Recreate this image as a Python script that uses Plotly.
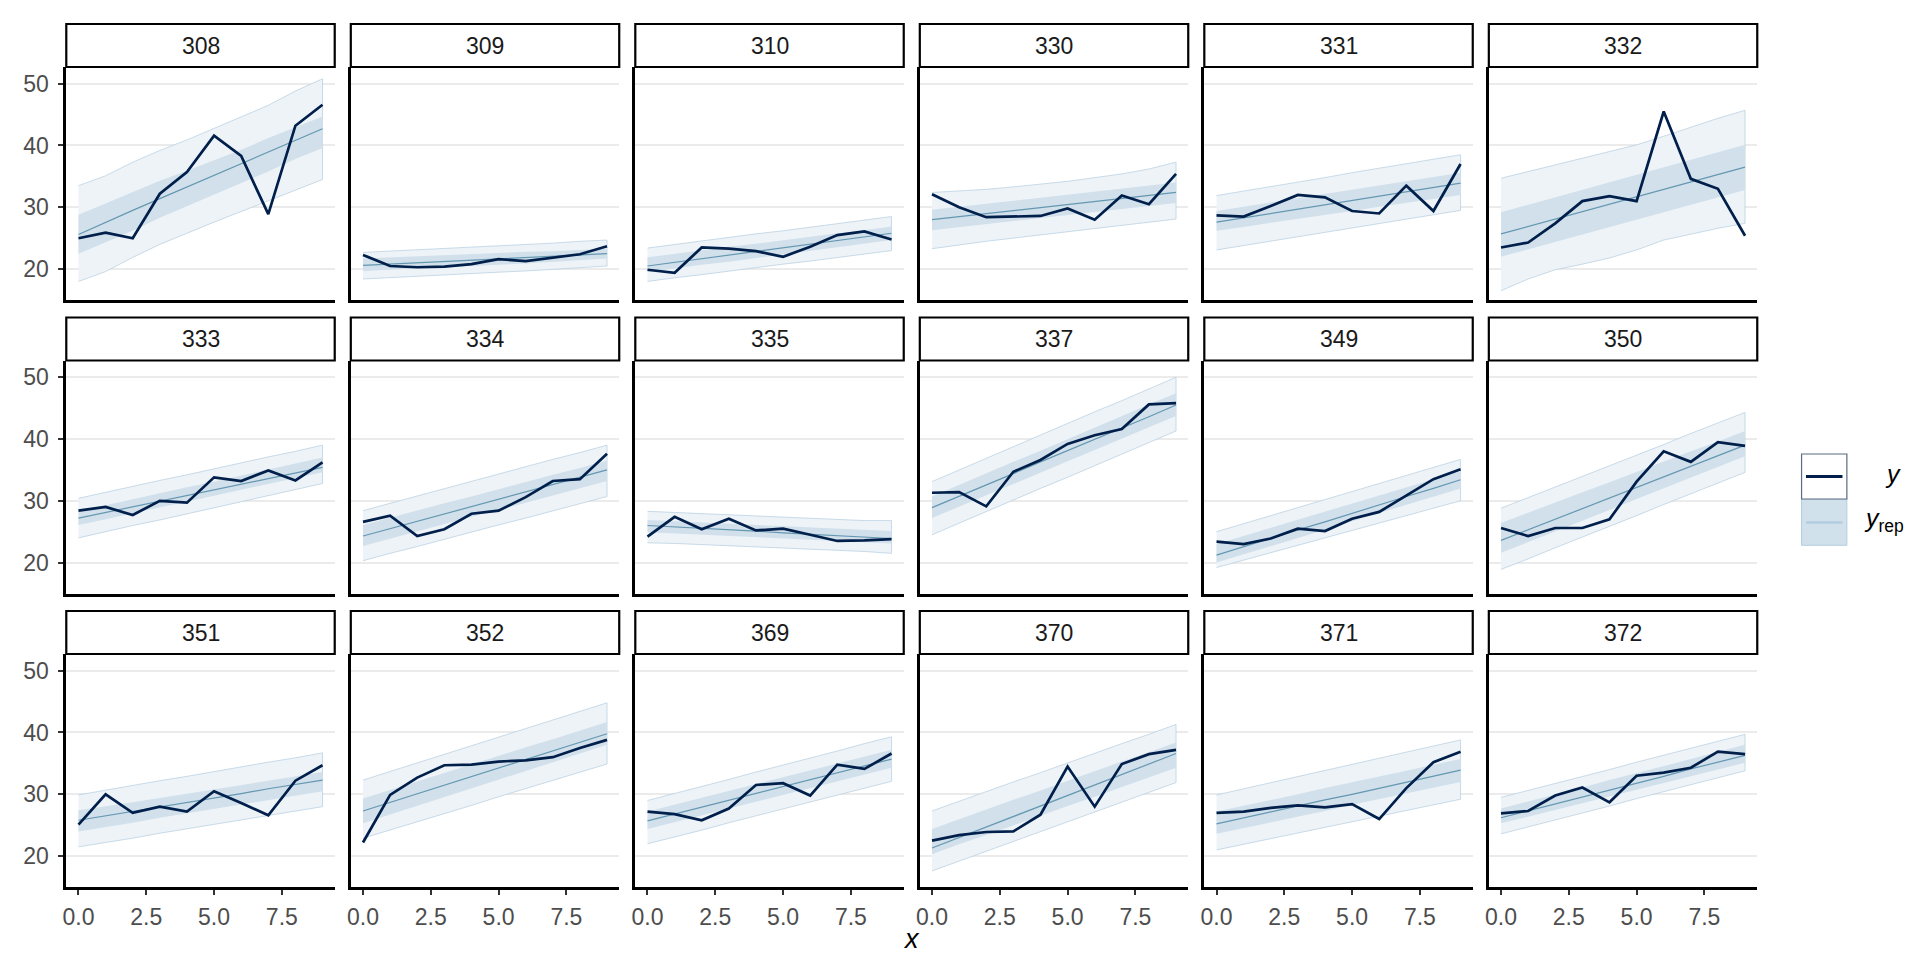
import plotly.graph_objects as go

# ---------------- data ----------------
groups = ["308", "309", "310", "330", "331", "332",
          "333", "334", "335", "337", "349", "350",
          "351", "352", "369", "370", "371", "372"]
x_vals = [0, 1, 2, 3, 4, 5, 6, 7, 8, 9]
x_tick_vals = [0, 2.5, 5, 7.5]
x_tick_text = ["0.0", "2.5", "5.0", "7.5"]
y_tick_vals = [20, 30, 40, 50]
y_tick_text = ["20", "30", "40", "50"]

y_obs = [
    [25.0, 25.9, 25.0, 32.2, 35.7, 41.6, 38.3, 28.9, 43.2, 46.6],
    [22.3, 20.5, 20.3, 20.4, 20.8, 21.6, 21.3, 21.8, 22.4, 23.7],
    [19.9, 19.4, 23.5, 23.3, 22.9, 22.0, 23.6, 25.5, 26.1, 24.8],
    [32.1, 30.0, 28.4, 28.5, 28.6, 29.8, 28.0, 31.9, 30.5, 35.4],
    [28.7, 28.5, 30.2, 32.0, 31.6, 29.4, 29.0, 33.5, 29.4, 37.0],
    [23.5, 24.3, 27.4, 31.0, 31.8, 31.0, 45.5, 34.6, 33.0, 25.4],
    [28.4, 29.0, 27.7, 30.0, 29.7, 33.8, 33.2, 34.9, 33.3, 36.2],
    [26.6, 27.6, 24.3, 25.4, 27.9, 28.4, 30.6, 33.2, 33.5, 37.6],
    [24.2, 27.4, 25.4, 27.1, 25.2, 25.5, 24.5, 23.5, 23.6, 23.8],
    [31.3, 31.4, 29.1, 34.7, 36.6, 39.2, 40.6, 41.6, 45.6, 45.8],
    [23.4, 23.0, 23.9, 25.5, 25.1, 27.1, 28.2, 30.8, 33.5, 35.1],
    [25.6, 24.3, 25.6, 25.6, 27.0, 33.1, 38.0, 36.3, 39.5, 38.9],
    [25.1, 30.0, 27.0, 28.0, 27.2, 30.5, 28.6, 26.6, 32.2, 34.7],
    [22.2, 29.9, 32.7, 34.7, 34.8, 35.3, 35.5, 36.0, 37.5, 38.8],
    [27.2, 26.8, 25.8, 27.7, 31.5, 31.8, 29.8, 34.8, 34.1, 36.6],
    [22.5, 23.4, 23.9, 24.0, 26.7, 34.5, 28.0, 34.9, 36.5, 37.2],
    [27.0, 27.2, 27.8, 28.2, 27.9, 28.4, 26.0, 31.0, 35.2, 36.9],
    [26.9, 27.3, 29.8, 31.1, 28.7, 33.0, 33.5, 34.3, 36.9, 36.5],
]

yrep_median = [
    [25.6, 27.6, 29.5, 31.4, 33.3, 35.2, 37.1, 39.0, 40.9, 42.7],
    [20.6, 20.8, 21.0, 21.2, 21.4, 21.6, 21.8, 22.0, 22.3, 22.5],
    [20.5, 21.1, 21.7, 22.3, 22.9, 23.4, 24.0, 24.6, 25.2, 25.8],
    [28.0, 28.5, 29.0, 29.5, 30.0, 30.4, 30.9, 31.4, 31.9, 32.4],
    [27.6, 28.3, 29.0, 29.7, 30.4, 31.1, 31.8, 32.5, 33.2, 33.9],
    [25.7, 26.9, 28.1, 29.3, 30.5, 31.7, 32.9, 34.1, 35.3, 36.5],
    [27.2, 28.1, 29.0, 29.9, 30.8, 31.8, 32.7, 33.6, 34.5, 35.4],
    [24.3, 25.5, 26.7, 27.9, 29.1, 30.2, 31.4, 32.6, 33.8, 35.0],
    [26.0, 25.8, 25.5, 25.3, 25.1, 24.8, 24.6, 24.4, 24.1, 23.9],
    [28.9, 30.7, 32.6, 34.4, 36.3, 38.1, 39.9, 41.8, 43.6, 45.5],
    [21.2, 22.6, 23.9, 25.3, 26.6, 28.0, 29.3, 30.7, 32.0, 33.4],
    [23.6, 25.3, 27.0, 28.7, 30.4, 32.2, 33.9, 35.6, 37.3, 39.0],
    [25.8, 26.5, 27.2, 28.0, 28.7, 29.4, 30.1, 30.9, 31.6, 32.3],
    [27.3, 28.7, 30.1, 31.5, 32.9, 34.2, 35.6, 37.0, 38.4, 39.8],
    [25.7, 26.8, 27.9, 29.0, 30.1, 31.3, 32.4, 33.5, 34.6, 35.7],
    [21.3, 23.0, 24.7, 26.4, 28.1, 29.8, 31.5, 33.2, 34.9, 36.6],
    [25.2, 26.2, 27.1, 28.1, 29.1, 30.0, 31.0, 32.0, 32.9, 33.9],
    [26.2, 27.3, 28.4, 29.6, 30.7, 31.8, 32.9, 34.1, 35.2, 36.3],
]

yrep_outer_hi = [
    [33.5, 35.1, 37.3, 39.2, 40.9, 42.8, 44.6, 46.5, 48.8, 50.8],
    [22.7, 22.9, 23.1, 23.3, 23.6, 23.8, 24.0, 24.2, 24.5, 24.7],
    [23.4, 24.0, 24.5, 25.1, 25.7, 26.2, 26.8, 27.3, 27.9, 28.5],
    [32.4, 32.6, 32.9, 33.3, 33.7, 34.2, 34.8, 35.4, 36.2, 37.3],
    [31.9, 32.6, 33.4, 34.1, 34.8, 35.6, 36.3, 37.0, 37.8, 38.5],
    [34.7, 35.8, 36.9, 38.0, 39.0, 40.1, 41.5, 43.0, 44.4, 45.7],
    [30.4, 31.4, 32.3, 33.3, 34.2, 35.2, 36.1, 37.1, 38.0, 39.0],
    [28.4, 29.6, 30.8, 31.9, 33.1, 34.3, 35.5, 36.7, 37.8, 39.0],
    [28.3, 28.1, 28.0, 27.8, 27.6, 27.4, 27.2, 26.9, 26.8, 26.8],
    [33.1, 35.0, 36.9, 38.7, 40.6, 42.5, 44.4, 46.2, 48.1, 50.0],
    [25.0, 26.3, 27.6, 28.9, 30.2, 31.5, 32.8, 34.1, 35.4, 36.7],
    [28.8, 30.5, 32.2, 34.0, 35.7, 37.4, 39.1, 40.9, 42.6, 44.3],
    [29.9, 30.7, 31.4, 32.2, 32.9, 33.7, 34.4, 35.2, 35.9, 36.7],
    [32.3, 33.7, 35.1, 36.5, 37.9, 39.2, 40.6, 42.0, 43.4, 44.8],
    [29.0, 30.1, 31.3, 32.4, 33.6, 34.7, 35.9, 37.0, 38.2, 39.3],
    [27.3, 28.9, 30.4, 32.0, 33.5, 35.1, 36.6, 38.2, 39.7, 41.3],
    [29.9, 30.9, 31.9, 32.9, 33.9, 34.8, 35.8, 36.8, 37.8, 38.8],
    [29.5, 30.6, 31.8, 32.9, 34.0, 35.2, 36.3, 37.4, 38.6, 39.7],
]

yrep_outer_lo = [
    [18.0, 19.6, 21.9, 24.0, 25.8, 27.6, 29.3, 31.0, 32.8, 34.5],
    [18.4, 18.6, 18.8, 19.1, 19.3, 19.5, 19.7, 19.9, 20.2, 20.5],
    [18.0, 18.6, 19.1, 19.7, 20.2, 20.8, 21.3, 21.9, 22.4, 23.0],
    [23.3, 23.9, 24.5, 25.0, 25.6, 26.1, 26.6, 27.1, 27.6, 28.1],
    [23.1, 23.8, 24.5, 25.2, 25.9, 26.7, 27.4, 28.1, 28.8, 29.5],
    [16.5, 18.4, 19.9, 20.8, 21.8, 23.1, 24.7, 25.7, 26.6, 27.4],
    [24.0, 25.0, 26.0, 26.9, 27.9, 28.9, 29.9, 30.8, 31.8, 32.8],
    [20.3, 21.5, 22.6, 23.8, 24.9, 26.1, 27.2, 28.4, 29.5, 30.7],
    [23.2, 23.1, 22.9, 22.7, 22.5, 22.3, 22.2, 22.0, 21.8, 21.5],
    [24.5, 26.4, 28.2, 30.1, 32.0, 33.8, 35.7, 37.6, 39.4, 41.3],
    [19.2, 20.4, 21.6, 22.8, 24.0, 25.2, 26.4, 27.6, 28.8, 30.0],
    [18.9, 20.6, 22.4, 24.1, 25.9, 27.6, 29.4, 31.1, 32.9, 34.6],
    [21.5, 22.2, 22.9, 23.7, 24.4, 25.1, 25.8, 26.6, 27.3, 28.0],
    [22.9, 24.2, 25.6, 26.9, 28.2, 29.6, 30.9, 32.2, 33.6, 34.9],
    [22.0, 23.1, 24.2, 25.4, 26.5, 27.6, 28.7, 29.9, 31.0, 32.1],
    [17.6, 19.2, 20.8, 22.4, 24.0, 25.5, 27.1, 28.7, 30.3, 31.9],
    [21.0, 21.9, 22.8, 23.7, 24.6, 25.6, 26.5, 27.4, 28.3, 29.2],
    [23.6, 24.7, 25.9, 27.0, 28.1, 29.3, 30.4, 31.5, 32.7, 33.8],
]

yrep_inner_hi = [
    [28.8, 30.6, 32.4, 34.3, 35.9, 37.6, 39.3, 41.2, 43.0, 44.7],
    [21.7, 21.9, 22.0, 22.2, 22.4, 22.6, 22.8, 22.9, 23.1, 23.3],
    [21.9, 22.5, 23.0, 23.6, 24.1, 24.7, 25.2, 25.8, 26.3, 26.9],
    [29.6, 30.1, 30.6, 31.1, 31.6, 32.0, 32.5, 33.0, 33.5, 34.0],
    [29.4, 30.1, 30.8, 31.5, 32.2, 32.8, 33.5, 34.2, 34.9, 35.6],
    [29.2, 30.4, 31.6, 32.8, 34.0, 35.2, 36.4, 37.6, 38.9, 40.1],
    [28.3, 29.3, 30.2, 31.2, 32.2, 33.1, 34.1, 35.1, 36.0, 37.0],
    [26.1, 27.3, 28.4, 29.6, 30.7, 31.9, 33.0, 34.2, 35.3, 36.5],
    [26.9, 26.7, 26.5, 26.3, 26.1, 25.9, 25.7, 25.5, 25.3, 25.1],
    [30.7, 32.6, 34.4, 36.3, 38.1, 40.0, 41.9, 43.7, 45.6, 47.4],
    [23.0, 24.3, 25.6, 26.9, 28.2, 29.6, 30.9, 32.2, 33.5, 34.8],
    [26.4, 28.1, 29.7, 31.4, 33.0, 34.7, 36.3, 38.0, 39.6, 41.3],
    [27.4, 28.0, 28.7, 29.4, 30.1, 30.7, 31.4, 32.2, 32.9, 33.6],
    [29.3, 30.7, 32.1, 33.4, 34.8, 36.2, 37.6, 38.9, 40.3, 41.7],
    [27.2, 28.3, 29.4, 30.5, 31.6, 32.8, 33.9, 35.0, 36.1, 37.2],
    [24.4, 26.0, 27.5, 29.1, 30.6, 32.2, 33.7, 35.3, 36.8, 38.4],
    [27.2, 28.1, 29.1, 30.0, 31.0, 31.9, 32.9, 33.8, 34.8, 35.7],
    [27.7, 28.8, 30.0, 31.1, 32.3, 33.4, 34.6, 35.7, 36.9, 38.0],
]

yrep_inner_lo = [
    [22.5, 24.3, 26.2, 28.3, 30.2, 32.0, 33.9, 35.8, 37.8, 39.6],
    [19.7, 19.9, 20.1, 20.3, 20.5, 20.7, 20.9, 21.2, 21.4, 21.7],
    [19.5, 20.1, 20.7, 21.2, 21.8, 22.4, 23.0, 23.5, 24.1, 24.7],
    [26.3, 26.8, 27.3, 27.8, 28.3, 28.7, 29.2, 29.7, 30.2, 30.7],
    [26.2, 26.8, 27.5, 28.1, 28.8, 29.4, 30.1, 30.7, 31.4, 32.0],
    [22.0, 23.2, 24.4, 25.6, 26.8, 28.0, 29.2, 30.4, 31.6, 32.8],
    [26.1, 27.0, 28.0, 28.9, 29.9, 30.8, 31.8, 32.7, 33.7, 34.6],
    [22.7, 23.9, 25.0, 26.2, 27.4, 28.5, 29.7, 30.9, 32.0, 33.2],
    [24.9, 24.7, 24.5, 24.3, 24.1, 23.9, 23.7, 23.5, 23.3, 23.1],
    [27.2, 29.0, 30.9, 32.7, 34.5, 36.4, 38.2, 40.0, 41.9, 43.7],
    [20.0, 21.3, 22.7, 24.0, 25.3, 26.7, 28.0, 29.3, 30.7, 32.0],
    [21.6, 23.3, 25.1, 26.8, 28.5, 30.3, 32.0, 33.7, 35.5, 37.2],
    [24.0, 24.7, 25.4, 26.2, 26.9, 27.6, 28.3, 29.1, 29.8, 30.5],
    [25.3, 26.7, 28.1, 29.5, 30.9, 32.4, 33.8, 35.2, 36.6, 38.0],
    [24.4, 25.5, 26.6, 27.7, 28.8, 29.9, 31.0, 32.1, 33.2, 34.3],
    [20.3, 21.9, 23.4, 25.0, 26.5, 28.1, 29.6, 31.2, 32.7, 34.3],
    [23.6, 24.5, 25.5, 26.4, 27.3, 28.3, 29.2, 30.1, 31.1, 32.0],
    [25.3, 26.4, 27.5, 28.6, 29.7, 30.7, 31.8, 32.9, 34.0, 35.1],
]

# ---------------- style / layout ----------------
W, H = 1920, 960
FONT = "Liberation Sans, Arial, Helvetica, sans-serif"
C_DARK = "#011F4B"
C_MID = "#6497B1"
C_LIGHT_HL = "#B3CDE0"
C_OUTER = "#EEF3F8"
C_INNER = "#D1E0EB"
C_GRID = "#EBEBEB"
TICK_SIZE = 23
STRIP_SIZE = 23

NCOL = 6
COL_LEFT0 = 54.4
COL_PITCH = 285.1
PANEL_W = 269.0
ROW_TOP0 = 59.0
ROW_PITCH = 293.5
PANEL_H = 233.0
STRIP_H = 43.0
X_RANGE = [-0.45, 9.45]
Y_RANGE = [15.0, 52.7]


def px(xp):
    return xp / W


def py(yp):
    return 1 - yp / H


fig = go.Figure()
layout = dict(
    width=W, height=H,
    margin=dict(l=0, r=0, t=0, b=0),
    paper_bgcolor="white", plot_bgcolor="white",
    showlegend=False,
    font=dict(family=FONT, size=TICK_SIZE, color="#4D4D4D"),
)
shapes = []
annotations = []

for k, g in enumerate(groups):
    r, c = divmod(k, NCOL)
    sfx = "" if k == 0 else str(k + 1)
    left = COL_LEFT0 + c * COL_PITCH
    right = left + PANEL_W
    top = ROW_TOP0 + r * ROW_PITCH
    bottom = top + PANEL_H
    xa, ya = "x" + sfx, "y" + sfx

    # outer ribbon
    fig.add_trace(go.Scatter(
        x=x_vals + x_vals[::-1],
        y=yrep_outer_hi[k] + yrep_outer_lo[k][::-1],
        fill="toself", fillcolor=C_OUTER, mode="lines",
        line=dict(color=C_LIGHT_HL, width=0.7),
        xaxis=xa, yaxis=ya, hoverinfo="skip"))
    # inner ribbon
    fig.add_trace(go.Scatter(
        x=x_vals + x_vals[::-1],
        y=yrep_inner_hi[k] + yrep_inner_lo[k][::-1],
        fill="toself", fillcolor=C_INNER, mode="lines",
        line=dict(color=C_INNER, width=0),
        xaxis=xa, yaxis=ya, hoverinfo="skip"))
    # median
    fig.add_trace(go.Scatter(
        x=x_vals, y=yrep_median[k], mode="lines",
        line=dict(color=C_MID, width=1.2),
        xaxis=xa, yaxis=ya, hoverinfo="skip"))
    # observed y
    fig.add_trace(go.Scatter(
        x=x_vals, y=y_obs[k], mode="lines",
        line=dict(color=C_DARK, width=2.7),
        xaxis=xa, yaxis=ya))

    bottom_row = (r == 2)
    first_col = (c == 0)
    layout["xaxis" + sfx] = dict(
        domain=[px(left), px(right)], anchor=ya, range=X_RANGE,
        showgrid=False, zeroline=False,
        showline=True, linecolor="black", linewidth=2.6,
        tickvals=x_tick_vals, ticktext=x_tick_text,
        showticklabels=bottom_row,
        ticks="outside" if bottom_row else "",
        ticklen=5, tickwidth=1.6, tickcolor="#333333",
        ticklabelstandoff=3,
        tickfont=dict(family=FONT, size=TICK_SIZE, color="#4D4D4D"),
    )
    layout["yaxis" + sfx] = dict(
        domain=[py(bottom), py(top)], anchor=xa, range=Y_RANGE,
        showgrid=True, gridcolor=C_GRID, gridwidth=1.8, zeroline=False,
        showline=True, linecolor="black", linewidth=2.6,
        tickvals=y_tick_vals, ticktext=y_tick_text,
        showticklabels=first_col,
        ticks="outside" if first_col else "",
        ticklen=5, tickwidth=1.6, tickcolor="#333333",
        ticklabelstandoff=5,
        tickfont=dict(family=FONT, size=TICK_SIZE, color="#4D4D4D"),
    )

    # facet strip
    s_top = top - STRIP_H
    shapes.append(dict(
        type="rect", xref="paper", yref="paper",
        x0=px(left), x1=px(right), y0=py(top), y1=py(s_top),
        fillcolor="white", line=dict(color="black", width=2.2), layer="above"))
    annotations.append(dict(
        xref="paper", yref="paper", x=px((left + right) / 2),
        y=py(s_top + STRIP_H / 2), text=g, showarrow=False,
        xanchor="center", yanchor="middle",
        font=dict(family=FONT, size=STRIP_SIZE, color="#1A1A1A")))

# x axis title
annotations.append(dict(
    xref="paper", yref="paper", x=px(901.8), y=py(931),
    text="<i>x</i>", showarrow=False, xanchor="center", yanchor="middle",
    font=dict(family=FONT, size=27, color="black")))

# legend (drawn manually)
LX0, LX1 = 1793.3, 1838.7
shapes.append(dict(type="rect", xref="paper", yref="paper",
                   x0=px(LX0), x1=px(LX1), y0=py(491), y1=py(537.3),
                   fillcolor="#D1E1EC", line=dict(color=C_LIGHT_HL, width=1)))
shapes.append(dict(type="line", xref="paper", yref="paper",
                   x0=px(1797.7), x1=px(1834.3), y0=py(514.5), y1=py(514.5),
                   line=dict(color=C_LIGHT_HL, width=2.5)))
shapes.append(dict(type="rect", xref="paper", yref="paper",
                   x0=px(LX0), x1=px(LX1), y0=py(446), y1=py(491),
                   fillcolor="white", line=dict(color="#5B6B82", width=1.2)))
shapes.append(dict(type="line", xref="paper", yref="paper",
                   x0=px(1797.7), x1=px(1834.3), y0=py(468.5), y1=py(468.5),
                   line=dict(color=C_DARK, width=3)))
annotations.append(dict(
    xref="paper", yref="paper", x=px(1885), y=py(466),
    text="<i>y</i>", showarrow=False, xanchor="center", yanchor="middle",
    font=dict(family=FONT, size=25, color="black")))
annotations.append(dict(
    xref="paper", yref="paper", x=px(1854), y=py(512),
    text="<i>y</i><sub>rep</sub>", showarrow=False, xanchor="left",
    yanchor="middle", font=dict(family=FONT, size=25, color="black")))

layout["shapes"] = shapes
layout["annotations"] = annotations
fig.update_layout(**layout)
fig.write_html("out.html")
